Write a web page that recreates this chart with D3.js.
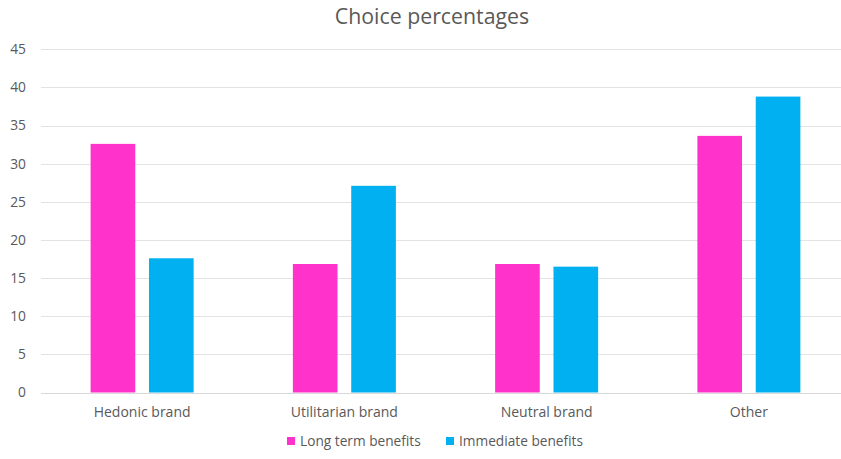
<!DOCTYPE html>
<html>
<head>
<meta charset="utf-8">
<script src="https://cdn.jsdelivr.net/npm/d3@7"></script>
<style>
  html, body { margin: 0; padding: 0; background: #fff; }
  svg { display: block; font-family: "Open Sans", "Liberation Sans", sans-serif; }
</style>
</head>
<body>
<svg id="chart" width="841" height="459"></svg>
<script>
// Choice percentages by brand type and benefit framing
const categories = ["Hedonic brand", "Utilitarian brand", "Neutral brand", "Other"];
const seriesNames = ["Long term benefits", "Immediate benefits"];
const longTerm = [32.6, 16.85, 16.85, 33.65];
const immediate = [17.6, 27.1, 16.5, 38.8];
const yTicks = [0, 5, 10, 15, 20, 25, 30, 35, 40, 45];
const colors = ["#FF33CC", "#00B0F0"];

const rows = categories.map((c, i) => ({ category: c, values: [longTerm[i], immediate[i]] }));

const svg = d3.select("#chart");
const W = 841, H = 459;
const margin = { left: 41, right: -9, top: 49, bottom: 66 };
const plotW = W - margin.left - margin.right;
const y0 = H - margin.bottom;

const x = d3.scaleBand().domain(categories).range([margin.left, margin.left + plotW]).paddingInner(0).paddingOuter(0);
const x1 = d3.scaleBand().domain(seriesNames).range([0, 103]).paddingInner(0.235);
const y = d3.scaleLinear().domain([0, 45]).range([y0 - 0.5, margin.top + 0.3]);

// gridlines
svg.append("g").selectAll("line").data(yTicks).join("line")
  .attr("x1", margin.left).attr("x2", W)
  .attr("y1", d => Math.round(y(d)) + 0.5).attr("y2", d => Math.round(y(d)) + 0.5)
  .attr("stroke", d => d === 0 ? "#d9d9d9" : "#e3e3e3").attr("stroke-width", 1);

// y tick labels
svg.append("g").selectAll("text").data(yTicks).join("text")
  .attr("x", 26).attr("y", d => y(d)).attr("dy", "0.35em")
  .attr("text-anchor", "end").attr("font-size", 13.8).attr("fill", "#595959")
  .text(d => d);

// bars
const groups = svg.append("g").selectAll("g").data(rows).join("g")
  .attr("transform", d => `translate(${x(d.category) + x.bandwidth() / 2 - 51.5},0)`);
groups.selectAll("rect").data(d => d.values.map((v, i) => ({ key: seriesNames[i], v, i })))
  .join("rect")
  .attr("x", d => x1(d.key))
  .attr("width", x1.bandwidth())
  .attr("y", d => y(d.v))
  .attr("height", d => y(0) - y(d.v))
  .attr("fill", d => colors[d.i]);

// category labels
svg.append("g").selectAll("text").data(categories).join("text")
  .attr("x", d => x(d) + x.bandwidth() / 2).attr("y", 417)
  .attr("text-anchor", "middle").attr("font-size", 14).attr("fill", "#595959")
  .text(d => d);

// title
svg.append("text").attr("x", 432).attr("y", 24).attr("text-anchor", "middle")
  .attr("font-size", 21.3).attr("fill", "#595959").text("Choice percentages");

// legend
const legendX = [287, 446];
const lg = svg.append("g").selectAll("g").data(seriesNames).join("g")
  .attr("transform", (d, i) => `translate(${legendX[i]},437)`);
lg.append("rect").attr("width", 8).attr("height", 8).attr("fill", (d, i) => colors[i]);
lg.append("text").attr("x", 13).attr("y", 4).attr("dy", "0.35em")
  .attr("font-size", 13.7).attr("fill", "#595959").text(d => d);
</script>
</body>
</html>
